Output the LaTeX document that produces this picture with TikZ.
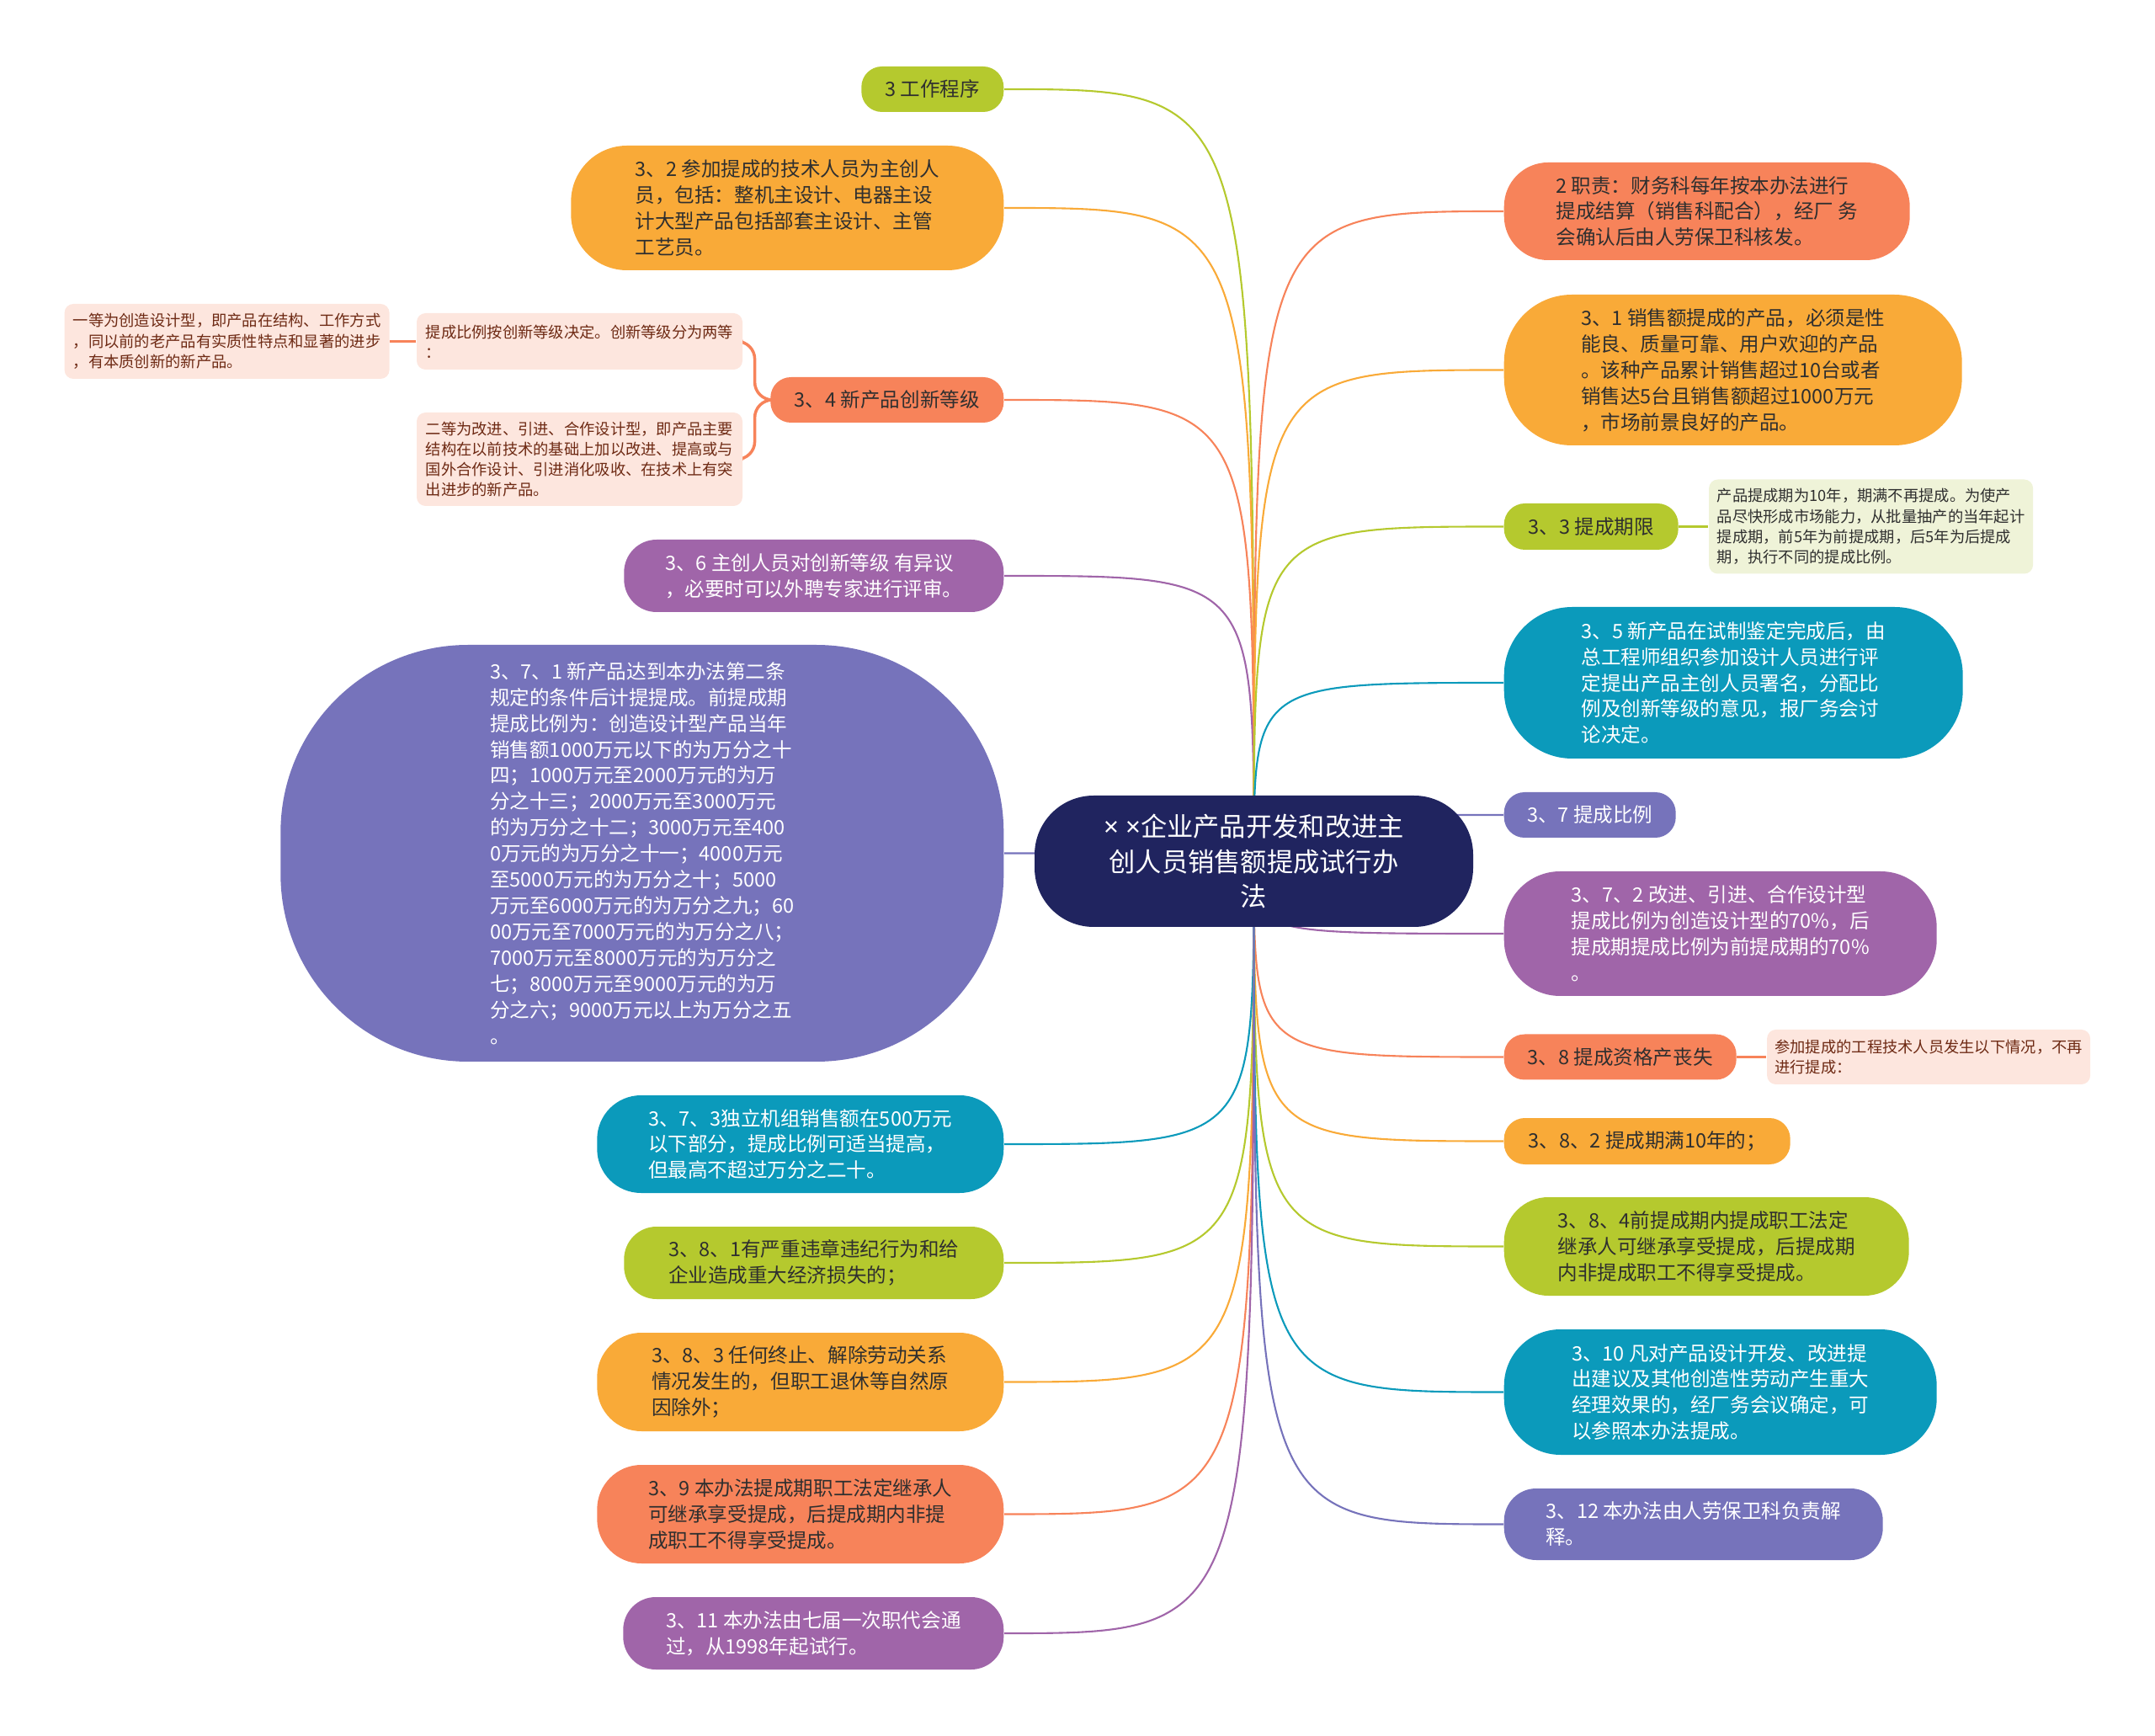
\documentclass[tikz,border=0pt]{standalone}
\usepackage{fontspec}
\setmainfont{Noto Sans CJK SC}
\newfontfamily\latinfont{Noto Sans}
\usetikzlibrary{positioning,backgrounds}
\definecolor{cgreen}{HTML}{B5C92E}
\definecolor{corange}{HTML}{F9AA38}
\definecolor{ccoral}{HTML}{F7835A}
\definecolor{cpurple}{HTML}{A065A9}
\definecolor{cslate}{HTML}{7673BB}
\definecolor{cteal}{HTML}{0B9ABB}
\definecolor{cnavy}{HTML}{20245F}
\definecolor{cpink}{HTML}{FDE6DE}
\definecolor{cpale}{HTML}{EFF3D8}
\definecolor{cdark}{HTML}{2F2F2F}
\definecolor{cbrown}{HTML}{6E2A14}

\begin{document}
\begin{tikzpicture}[
  topic/.style 2 args={rounded corners={0.45*#2cm}, minimum width=#1cm,
    minimum height=#2cm, inner sep=0pt, align=left,
    font=\fontsize{6.7}{8.8}\selectfont},
  darktext/.style={text=cdark},
  lighttext/.style={text=white},
  note/.style 2 args={rounded corners=3pt, minimum width=#1cm,
    minimum height=#2cm, inner sep=0pt, align=left,
    font=\fontsize{5.2}{6.9}\selectfont},
  link/.style={line width=0.6pt},
  sublink/.style={line width=1pt}]
\useasboundingbox (0,0) rectangle (25.6,-20.62);

% root
\node[topic={5.21}{1.56}, fill=cnavy, lighttext, align=center,
  font=\fontsize{8.9}{11.9}\selectfont] (root) at (14.895,-10.23)
  {{\latinfont × ×}企业产品开发和改进主\\创人员销售额提成试行办\\法};

% left side
\node[topic={1.69}{0.54}, fill=cgreen, darktext, anchor=east] (work)
  at (11.93,-1.06) {3 工作程序};
\node[topic={5.14}{1.48}, fill=corange, darktext, anchor=east] (staff)
  at (11.93,-2.47) {3、2 参加提成的技术人员为主创人\\员，包括：整机主设计、电器主设\\计大型产品包括部套主设计、主管\\工艺员。};
\node[topic={2.77}{0.54}, fill=ccoral, darktext, anchor=east] (grade)
  at (11.93,-4.75) {3、4 新产品创新等级};
\node[note={3.87}{0.67}, fill=cpink, text=cbrown] (gradeNote)
  at (6.885,-4.055) {提成比例按创新等级决定。创新等级分为两等\\：};
\node[note={3.87}{1.11}, fill=cpink, text=cbrown] (gradeTwo)
  at (6.885,-5.455) {二等为改进、引进、合作设计型，即产品主要\\结构在以前技术的基础上加以改进、提高或与\\国外合作设计、引进消化吸收、在技术上有突\\出进步的新产品。};
\node[note={3.86}{0.89}, fill=cpink, text=cbrown, left=0.31cm of gradeNote]
  (gradeOne) {一等为创造设计型，即产品在结构、工作方式\\，同以前的老产品有实质性特点和显著的进步\\，有本质创新的新产品。};
\node[topic={4.51}{0.86}, fill=cpurple, lighttext, anchor=east] (appeal)
  at (11.93,-6.84) {3、6 主创人员对创新等级 有异议\\，必要时可以外聘专家进行评审。};
\node[topic={8.59}{4.95}, fill=cslate, lighttext, anchor=east] (ratioNew)
  at (11.93,-10.135) {3、7、1 新产品达到本办法第二条\\规定的条件后计提提成。前提成期\\提成比例为：创造设计型产品当年\\销售额1000万元以下的为万分之十\\四；1000万元至2000万元的为万\\分之十三；2000万元至3000万元\\的为万分之十二；3000万元至400\\0万元的为万分之十一；4000万元\\至5000万元的为万分之十；5000\\万元至6000万元的为万分之九；60\\00万元至7000万元的为万分之八；\\7000万元至8000万元的为万分之\\七；8000万元至9000万元的为万\\分之六；9000万元以上为万分之五\\。};
\node[topic={4.83}{1.16}, fill=cteal, lighttext, anchor=east] (ratioUnit)
  at (11.93,-13.59) {3、7、3独立机组销售额在500万元\\以下部分，提成比例可适当提高，\\但最高不超过万分之二十。};
\node[topic={4.51}{0.86}, fill=cgreen, darktext, anchor=east] (lossA)
  at (11.93,-15.00) {3、8、1有严重违章违纪行为和给\\企业造成重大经济损失的；};
\node[topic={4.83}{1.17}, fill=corange, darktext, anchor=east] (lossC)
  at (11.93,-16.415) {3、8、3 任何终止、解除劳动关系\\情况发生的，但职工退休等自然原\\因除外；};
\node[topic={4.83}{1.17}, fill=ccoral, darktext, anchor=east] (heirs)
  at (11.93,-17.985) {3、9 本办法提成期职工法定继承人\\可继承享受提成，后提成期内非提\\成职工不得享受提成。};
\node[topic={4.52}{0.86}, fill=cpurple, lighttext, anchor=east] (passed)
  at (11.93,-19.40) {3、11 本办法由七届一次职代会通\\过，从1998年起试行。};

% right side
\node[topic={4.82}{1.16}, fill=ccoral, darktext, anchor=west] (duty)
  at (17.86,-2.51) {2 职责：财务科每年按本办法进行\\提成结算（销售科配合），经厂 务\\会确认后由人劳保卫科核发。};
\node[topic={5.44}{1.79}, fill=corange, darktext, anchor=west] (product)
  at (17.86,-4.395) {3、1 销售额提成的产品，必须是性\\能良、质量可靠、用户欢迎的产品\\。该种产品累计销售超过10台或者\\销售达5台且销售额超过1000万元\\，市场前景良好的产品。};
\node[topic={2.07}{0.55}, fill=cgreen, darktext, anchor=west] (period)
  at (17.86,-6.255) {3、3 提成期限};
\node[note={3.85}{1.12}, fill=cpale, text=cdark, right=0.35cm of period]
  (periodNote) {产品提成期为10年，期满不再提成。为使产\\品尽快形成市场能力，从批量抽产的当年起计\\提成期，前5年为前提成期，后5年为后提成\\期，执行不同的提成比例。};
\node[topic={5.45}{1.80}, fill=cteal, lighttext, anchor=west] (review)
  at (17.86,-8.11) {3、5 新产品在试制鉴定完成后，由\\总工程师组织参加设计人员进行评\\定提出产品主创人员署名，分配比\\例及创新等级的意见，报厂务会讨\\论决定。};
\node[topic={2.04}{0.54}, fill=cslate, lighttext, anchor=west] (ratio)
  at (17.86,-9.68) {3、7 提成比例};
\node[topic={5.14}{1.48}, fill=cpurple, lighttext, anchor=west] (ratioImp)
  at (17.86,-11.09) {3、7、2 改进、引进、合作设计型\\提成比例为创造设计型的70\%，后\\提成期提成比例为前提成期的70\%\\。};
\node[topic={2.76}{0.54}, fill=ccoral, darktext, anchor=west] (loss)
  at (17.86,-12.555) {3、8 提成资格产丧失};
\node[note={3.84}{0.65}, fill=cpink, text=cbrown, right=0.35cm of loss]
  (lossNote) {参加提成的工程技术人员发生以下情况，不再\\进行提成：};
\node[topic={3.40}{0.55}, fill=corange, darktext, anchor=west] (lossB)
  at (17.86,-13.555) {3、8、2 提成期满10年的；};
\node[topic={4.81}{1.17}, fill=cgreen, darktext, anchor=west] (lossD)
  at (17.86,-14.805) {3、8、4前提成期内提成职工法定\\继承人可继承享受提成，后提成期\\内非提成职工不得享受提成。};
\node[topic={5.14}{1.49}, fill=cteal, lighttext, anchor=west] (others)
  at (17.86,-16.535) {3、10 凡对产品设计开发、改进提\\出建议及其他创造性劳动产生重大\\经理效果的，经厂务会议确定，可\\以参照本办法提成。};
\node[topic={4.50}{0.85}, fill=cslate, lighttext, anchor=west] (explain)
  at (17.86,-18.105) {3、12 本办法由人劳保卫科负责解\\释。};

% connectors behind the nodes
\begin{scope}[on background layer]
\foreach \n/\col in {work/cgreen, staff/corange, grade/ccoral,
    appeal/cpurple, ratioNew/cslate, ratioUnit/cteal, lossA/cgreen,
    lossC/corange, heirs/ccoral, passed/cpurple}
  \draw[link, \col] (root.center) .. controls (root.center |- \n.east) .. (\n.east);
\foreach \n/\col in {duty/ccoral, product/corange, period/cgreen,
    review/cteal, ratio/cslate, ratioImp/cpurple, loss/ccoral,
    lossB/corange, lossD/cgreen, others/cteal, explain/cslate}
  \draw[link, \col] (root.center) .. controls (root.center |- \n.west) .. (\n.west);
\draw[sublink, ccoral, rounded corners=6pt] (grade.west) -- ++(-0.18,0) |- (gradeNote.east);
\draw[sublink, ccoral, rounded corners=6pt] (grade.west) -- ++(-0.18,0) |- (gradeTwo.east);
\draw[sublink, ccoral] (gradeNote.west) -- (gradeOne.east);
\draw[sublink, cgreen] (period.east) -- (periodNote.west);
\draw[sublink, ccoral] (loss.east) -- (lossNote.west);
\end{scope}
\end{tikzpicture}
\end{document}
